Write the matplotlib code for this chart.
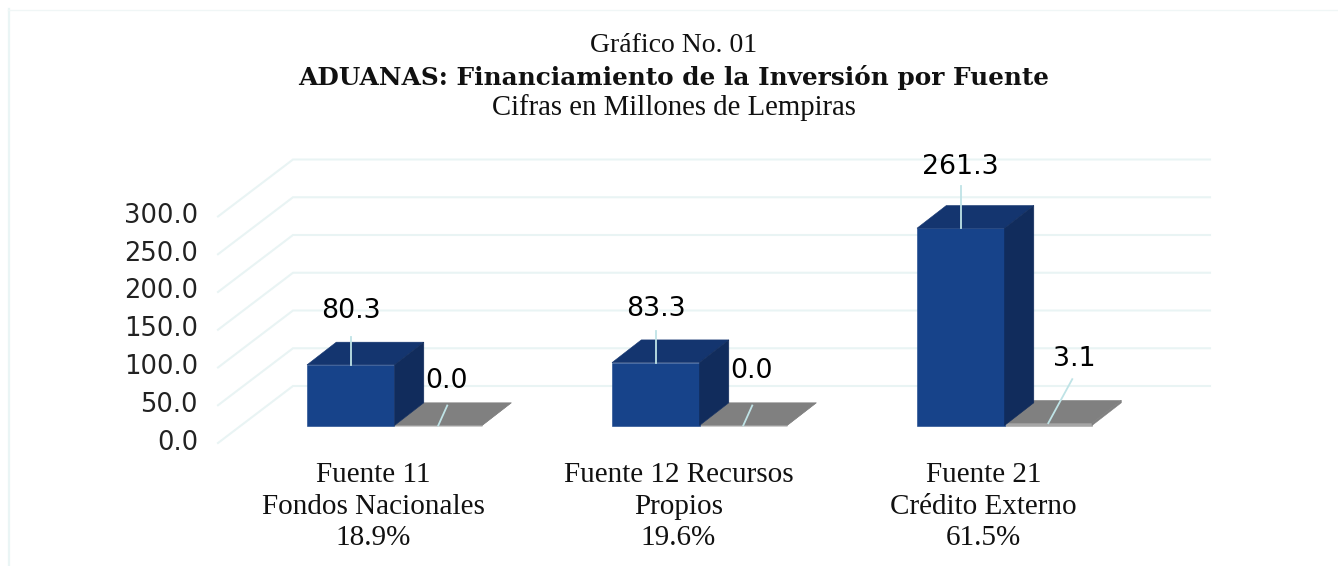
import numpy as np
import matplotlib
matplotlib.use('Agg')
import matplotlib.pyplot as plt
from matplotlib.patches import Polygon

# values
cat_labels = ['Fuente 11\nFondos Nacionales\n18.9%',
              'Fuente 12 Recursos\nPropios\n19.6%',
              'Fuente 21\nCrédito Externo\n61.5%']
serie_azul = [80.3, 83.3, 261.3]
serie_gris = [0.0, 0.0, 3.1]
ticks = [0, 50, 100, 150, 200, 250, 300]

W, H = 1338, 566
px_unit = 0.755      # pixels per value unit
px_cat = 305.0       # pixels between categories
x0_px, y0_px = 394.5, 425.5  # where category 0 meets value 0

fig = plt.figure(figsize=(W/100, H/100), dpi=100)
ax = fig.add_axes([0, 0, 1, 1])
ax.set_xlim(-x0_px/px_cat, (W-x0_px)/px_cat)
ax.set_ylim((y0_px-H)/px_unit, y0_px/px_unit)
ax.axis('off')

# depth of things, converted from pixels to data units
def dx(p):
    return p/px_cat
def dy(p):
    return p/px_unit

GRID = '#E9F4F4'
FRONT, TOP, SIDE = '#17438A', '#14356F', '#112C5C'
G_FRONT, G_TOP, G_SIDE = '#A6A6A6', '#808080', '#808080'

# outer frame
ax.plot([dx(9)+ax.get_xlim()[0]]*2, [ax.get_ylim()[0], dy(y0_px-9)], color='#EAF5F5', lw=1.6)
ax.plot([dx(8)+ax.get_xlim()[0], dx(W)+ax.get_xlim()[0]], [dy(y0_px-9.5)]*2, color='#F0F6F6', lw=1)

# grid: floor/wall diagonals and back lines
for t in ticks:
    x_front = dx(218-x0_px)
    x_back = dx(293-x0_px)
    x_end = dx(1210-x0_px)
    y_front = t + dy(-17.5)
    y_back = t + dy(39.5)
    ax.plot([x_front, x_back, x_end], [y_front, y_back, y_back], color=GRID, lw=1.5,
            solid_joinstyle='miter', zorder=1)
    ax.text(dx(198-x0_px), t + dy(-17), f'{t:.1f}', ha='right', va='center',
            fontsize=18.5, color='#222222', zorder=5)


def bar3d(x_left, x_right, h, front, top, side):
    ddx, ddy = dx(29.3), dy(22.7)
    ax.add_patch(Polygon([(x_left, 0), (x_right, 0), (x_right, h), (x_left, h)],
                         fc=front, ec=front, lw=0.4, zorder=3))
    ax.add_patch(Polygon([(x_left, h), (x_right, h), (x_right+ddx, h+ddy), (x_left+ddx, h+ddy)],
                         fc=top, ec=top, lw=0.4, zorder=3))
    ax.add_patch(Polygon([(x_right, 0), (x_right+ddx, ddy), (x_right+ddx, h+ddy), (x_right, h)],
                         fc=side, ec=side, lw=0.4, zorder=3))


bar_w = dx(87.5)
for i in range(3):
    # grey first so the blue side wall covers it
    bar3d(i, i+bar_w, serie_gris[i], G_FRONT, G_TOP, G_SIDE)
    bar3d(i-bar_w, i, serie_azul[i], FRONT, TOP, SIDE)

# data labels with leader lines, offsets in pixels
LEAD = '#BFE3E6'
azul_lab_dy = [54, 54, 61]
azul_lead_dy = [28, 32, 42]
gris_off = [(9, 20, 8, 45), (9, 20, 8, 55), (24, 44, 26, 64)]
for i in range(3):
    xc = i - bar_w/2
    v = serie_azul[i]
    ax.plot([xc, xc], [v, v + dy(azul_lead_dy[i])], color=LEAD, lw=1.3, zorder=4)
    ax.text(xc, v + dy(azul_lab_dy[i]), f'{v:.1f}', ha='center', va='center',
            fontsize=19.3, color='black', zorder=5)
    xg = i + bar_w/2
    v2 = serie_gris[i]
    ox, oy, tx, ty = gris_off[i]
    ax.plot([xg, xg + dx(ox)], [v2, v2 + dy(oy)], color=LEAD, lw=1.3, zorder=4)
    ax.text(xg + dx(tx), v2 + dy(ty), f'{v2:.1f}', ha='center', va='center',
            fontsize=19.3, color='black', zorder=5)

# category labels
for i, lab in enumerate(cat_labels):
    ax.text(i - dx(21), dy(y0_px-506.5), lab, ha='center', va='center', fontsize=21,
            family='Liberation Serif', linespacing=1.28, color='#111111')

# titles
xm = dx(673.5-x0_px)
ax.text(xm, dy(y0_px-45), 'Gráfico No. 01', ha='center', va='center', fontsize=20,
        family='Liberation Serif', color='#111111')
ax.text(xm, dy(y0_px-77), 'ADUANAS: Financiamiento de la Inversión por Fuente', ha='center', va='center',
        fontsize=17.8, fontweight='bold', family='DejaVu Serif', color='#111111')
ax.text(xm, dy(y0_px-108), 'Cifras en Millones de Lempiras', ha='center', va='center', fontsize=20.7,
        family='Liberation Serif', color='#111111')

fig.savefig('out.png', dpi=100)
